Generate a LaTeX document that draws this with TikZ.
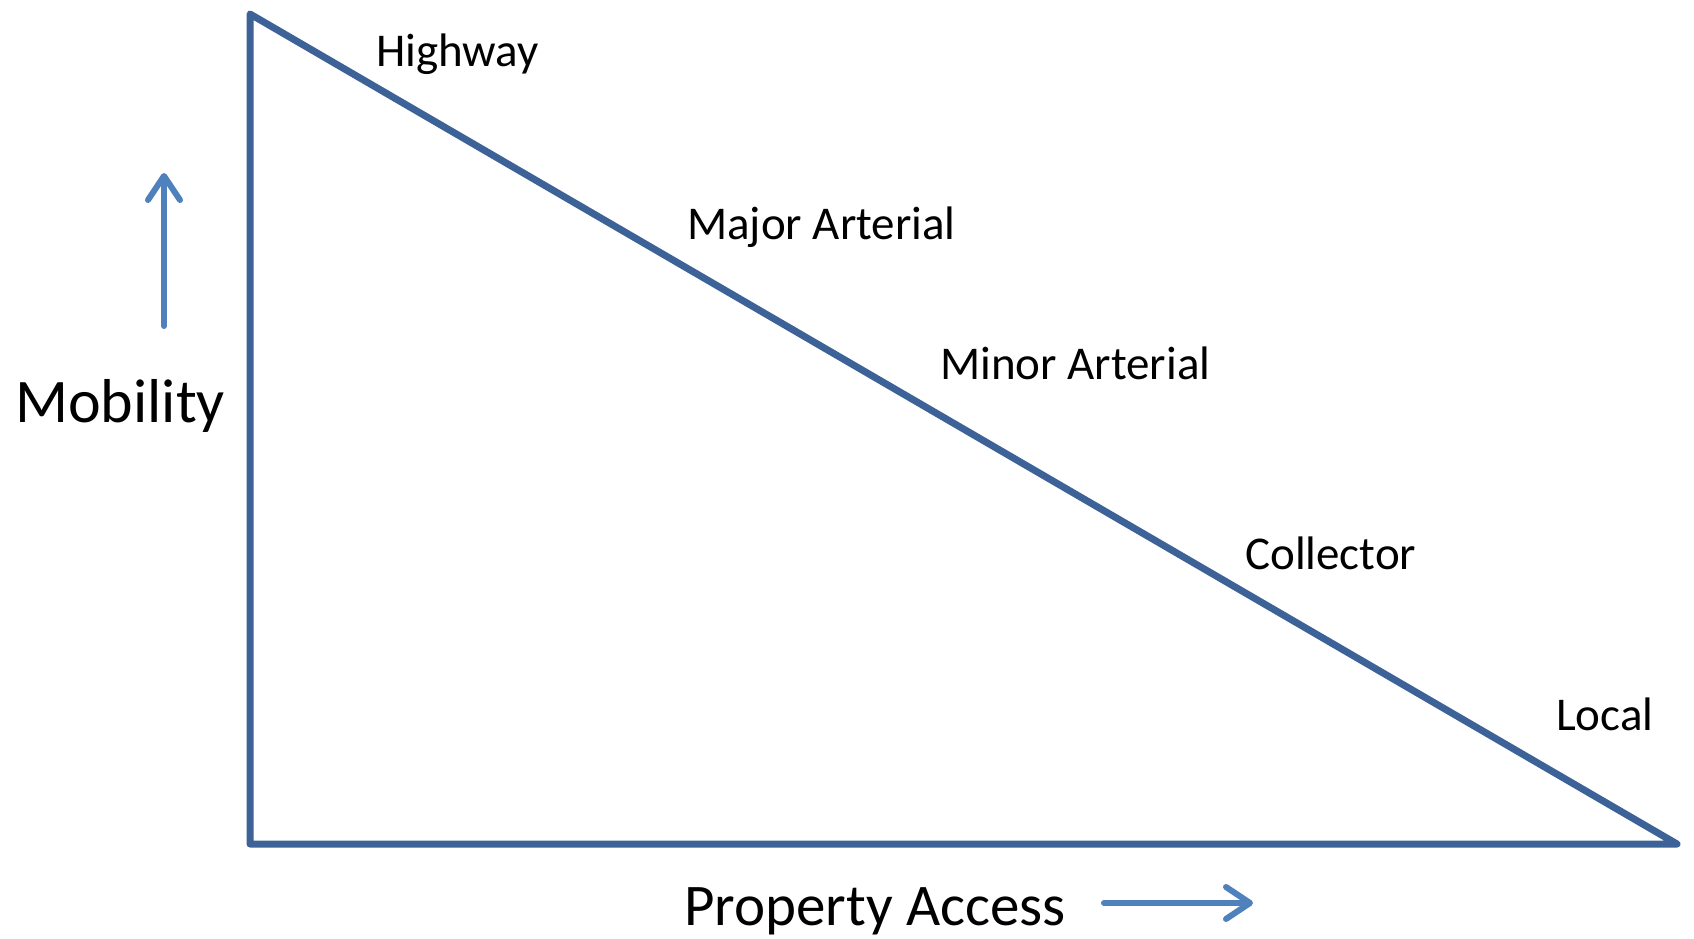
\documentclass[tikz,border=0pt]{standalone}
\usepackage{fontspec}
\setmainfont{Carlito}
\usetikzlibrary{arrows.meta}
\definecolor{tri}{HTML}{3C6297}
\definecolor{arr}{HTML}{4F81BD}
\tikzset{
  lbl/.style={anchor=base west, inner sep=0pt, font=\fontsize{47}{52}\selectfont},
  big/.style={anchor=base west, inner sep=0pt, font=\fontsize{62}{66}\selectfont},
  bigpa/.style={anchor=base west, inner sep=0pt, font=\fontsize{59}{66}\selectfont},
  dirarrow/.style={draw=arr, line width=6pt, line cap=round,
    -{Straight Barb[round, length=24pt, width=32pt]}}
}
\begin{document}
\begin{tikzpicture}[x=1pt,y=1pt]
\useasboundingbox (0,0) rectangle (1694,938);
\coordinate (tl) at (250,924);
\coordinate (bl) at (250,94);
\coordinate (br) at (1677,94);
\draw[tri, line width=7pt, line join=round] (tl) -- (bl) -- (br) -- cycle;
\node[lbl] (hw) at (376,871) {Highway};
\node[lbl] (maj) at (687,698) {Major Arterial};
\node[lbl] (min) at (940,558) {Minor Arterial};
\node[lbl] (col) at (1245,368) {Collector};
\node[lbl] (loc) at (1556,208) {Local};
\node[big] (mob) at (15,515) {Mobility};
\node[bigpa] (pa) at (684,13) {Property Access};
\coordinate (ma0) at (164,612);
\coordinate (ma1) at (164,765);
\draw[dirarrow] (ma0) -- (ma1);
\coordinate (pas) at (1104,35);
\coordinate (pae) at (1253,35);
\draw[dirarrow] (pas) -- (pae);
\end{tikzpicture}
\end{document}
